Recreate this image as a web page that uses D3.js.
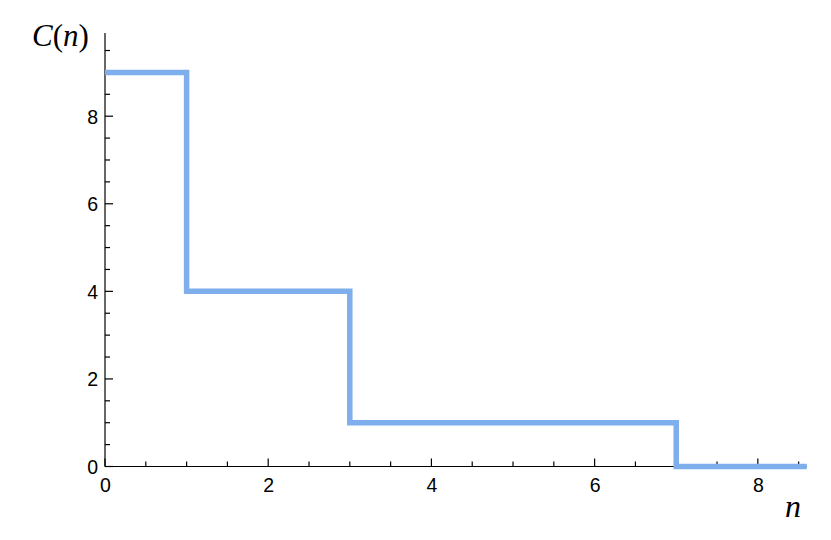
<!DOCTYPE html>
<html>
<head>
<meta charset="utf-8">
<script src="https://cdn.jsdelivr.net/npm/d3@7"></script>
<style>
body { margin: 0; background: #fff; }
svg { display: block; }
</style>
</head>
<body>
<svg id="chart" width="831" height="540"></svg>
<script>
// Data
const stepN = [0, 1, 3, 7, 8.6];
const stepC = [9, 4, 1, 0, 0];
const xMajorTicks = [0, 2, 4, 6, 8];
const yMajorTicks = [0, 2, 4, 6, 8];
const xDomain = [0, 8.6];
const yDomain = [0, 9.9];

const svg = d3.select("#chart");
const x = d3.scaleLinear().domain(xDomain).range([105, 806.8]);
const y = d3.scaleLinear().domain(yDomain).range([466.5, 33]);

const axisColor = "#000";
const tickFont = "font-family: 'Liberation Sans', Arial, sans-serif; font-size: 19.5px;";
const minorX = d3.range(0, 8.6001, 0.5).filter(v => !xMajorTicks.includes(v));
const minorY = d3.range(0, 9.9001, 0.5).filter(v => !yMajorTicks.includes(v));

// X axis
const gx = svg.append("g").attr("transform", `translate(0,${y(0)})`);
gx.call(d3.axisBottom(x).tickValues(xMajorTicks).tickSize(0).tickPadding(0).tickFormat(d3.format("d")));
gx.select(".domain").remove();
gx.selectAll(".tick text").attr("dy", null).attr("y", 25.5)
  .attr("style", tickFont).attr("fill", "#000");
gx.append("line").attr("x1", x(0)).attr("x2", x(xDomain[1])).attr("stroke", axisColor).attr("stroke-width", 1.2);
gx.selectAll(".maj").data(xMajorTicks).join("line").attr("class", "maj")
  .attr("x1", d => x(d)).attr("x2", d => x(d)).attr("y1", 0).attr("y2", -8).attr("stroke", axisColor).attr("stroke-width", 1.2);
gx.selectAll(".min").data(minorX).join("line").attr("class", "min")
  .attr("x1", d => x(d)).attr("x2", d => x(d)).attr("y1", 0).attr("y2", -5).attr("stroke", axisColor).attr("stroke-width", 1.2);

// Y axis
const gy = svg.append("g").attr("transform", `translate(${x(0)},0)`);
gy.call(d3.axisLeft(y).tickValues(yMajorTicks).tickSize(0).tickPadding(0).tickFormat(d3.format("d")));
gy.select(".domain").remove();
gy.selectAll(".tick text").attr("x", -7).attr("dy", "0.35em")
  .attr("style", tickFont).attr("fill", "#000");
gy.append("line").attr("y1", y(0)).attr("y2", y(yDomain[1])).attr("stroke", axisColor).attr("stroke-width", 1.2);
gy.selectAll(".maj").data(yMajorTicks).join("line").attr("class", "maj")
  .attr("y1", d => y(d)).attr("y2", d => y(d)).attr("x1", 0).attr("x2", 8).attr("stroke", axisColor).attr("stroke-width", 1.2);
gy.selectAll(".min").data(minorY).join("line").attr("class", "min")
  .attr("y1", d => y(d)).attr("y2", d => y(d)).attr("x1", 0).attr("x2", 5).attr("stroke", axisColor).attr("stroke-width", 1.2);

// Step line
const pts = stepN.map((n, i) => [n, stepC[i]]);
const line = d3.line().x(d => x(d[0])).y(d => y(d[1])).curve(d3.curveStepAfter);
svg.append("path").datum(pts)
  .attr("d", line)
  .attr("fill", "none")
  .attr("stroke", "#7eaeec")
  .attr("stroke-width", 5.5)
  .attr("stroke-linejoin", "miter")
  .attr("stroke-linecap", "butt");

// Axis labels
const yl = svg.append("text").attr("x", 32).attr("y", 46)
  .attr("style", "font-family: 'Liberation Serif', 'Times New Roman', serif; font-size: 31px;").attr("fill", "#000");
yl.append("tspan").attr("font-style", "italic").text("C");
yl.append("tspan").text("(");
yl.append("tspan").attr("font-style", "italic").text("n");
yl.append("tspan").text(")");

svg.append("text").attr("x", 785).attr("y", 517)
  .attr("style", "font-family: 'Liberation Serif', 'Times New Roman', serif; font-size: 32px; font-style: italic;")
  .attr("fill", "#000").text("n");
</script>
</body>
</html>
